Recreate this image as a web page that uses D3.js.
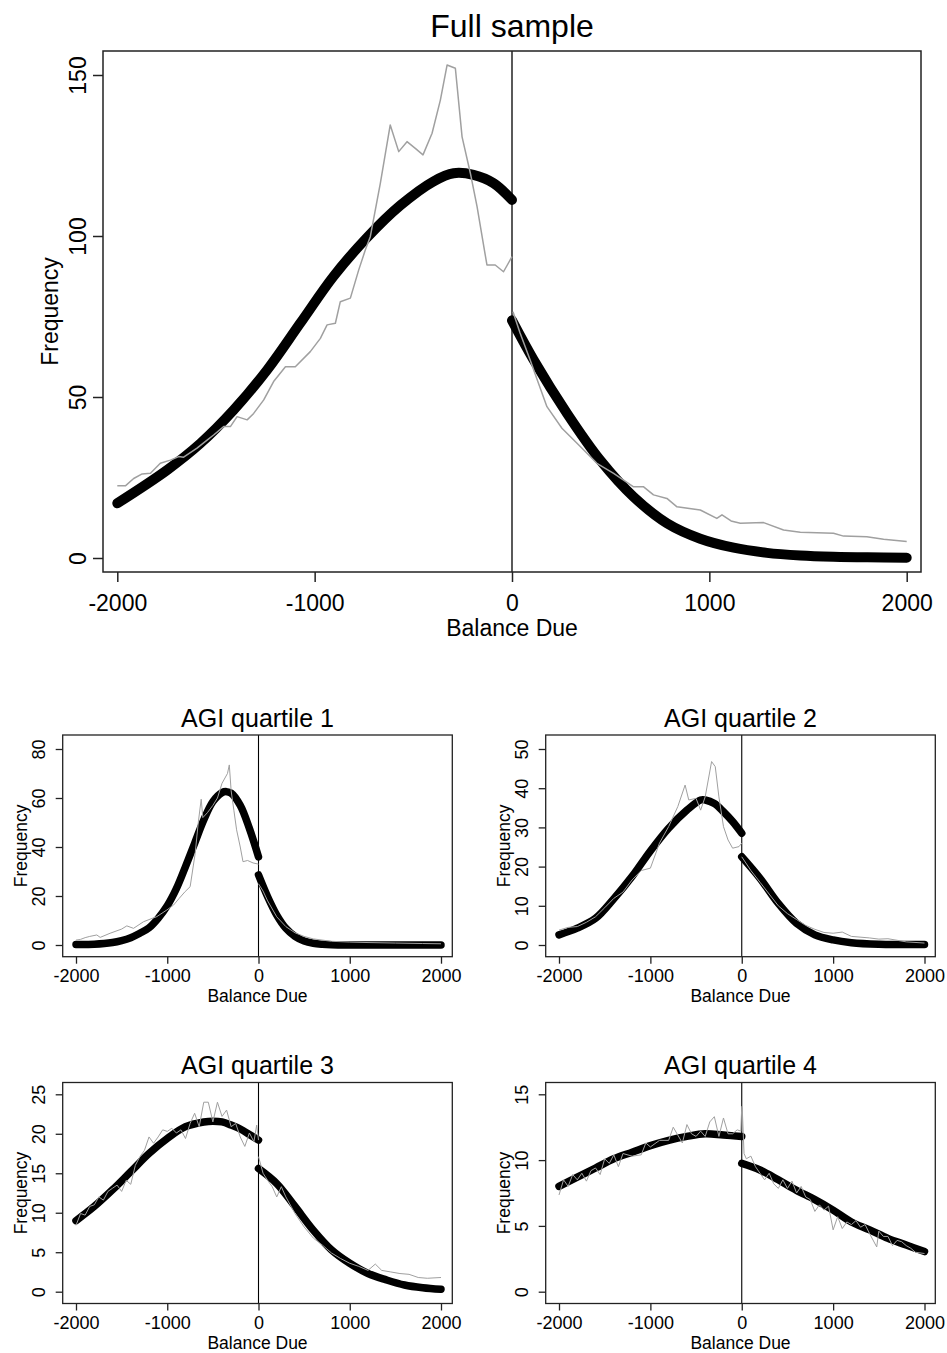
<!DOCTYPE html>
<html>
<head>
<meta charset="utf-8">
<script src="https://cdn.jsdelivr.net/npm/d3@7"></script>
<style>
body { margin: 0; background: #fff; }
svg { display: block; font-family: "Liberation Sans", Arial, sans-serif; }
</style>
</head>
<body>
<svg id="chart"></svg>
<script>
// ---- data: [balance due, frequency] ----
var xTicks = [-2000, -1000, 0, 1000, 2000];

var fullTicks = [0, 50, 100, 150];
var fullFitLeft = [[-2000,17],[-1748,27.3],[-1579,35.6],[-1410,46],[-1241,58.4],[-1072,73],[-904,87.5],
    [-735,99.5],[-566,109.5],[-397,117],[-296,119.5],[-195,119],[-93,116.4],[0,111.2]];
var fullFitRight = [[0,73.8],[110,61.5],[279,44.9],[447,30.4],[616,19],[785,10.8],[954,6],[1123,3.2],
    [1292,1.6],[1461,0.8],[1629,0.4],[1800,0.2],[2000,0.1]];
var fullObsLeft = [[-2000,22.4],[-1959,22.4],[-1917,24.7],[-1874,26.1],[-1832,26.3],[-1782,29.4],[-1731,30.4],
    [-1689,31.5],[-1664,31.3],[-1596,34.1],[-1545,36.6],[-1512,38.2],[-1461,40.8],[-1427,40.8],[-1393,43.9],
    [-1342,42.9],[-1309,44.9],[-1258,49.1],[-1208,54.8],[-1148,59.4],[-1098,59.4],[-1022,64.1],[-971,68.2],
    [-937,72.4],[-895,72.9],[-870,79.6],[-819,80.7],[-777,89.4],[-743,95.7],[-718,99.8],[-667,116.4],
    [-617,134.5],[-574,126.2],[-532,129.3],[-490,127.2],[-451,125.2],[-405,131.9],[-363,142.2],[-329,153.1],
    [-287,152.1],[-253,130.8],[-211,119.5],[-177,109.1],[-127,91],[-85,91],[-43,88.9],[0,93.6]];
var fullObsRight = [[5,76.5],[40,70],[92,61.5],[130,55],[177,47],[253,40.3],[346,34.6],[430,29.4],[515,26.3],
    [616,22.1],[667,22.1],[717,19.6],[785,18.5],[836,15.9],[954,14.9],[1038,12.3],[1064,13.4],[1110,11.5],
    [1157,10.8],[1275,11],[1376,8.7],[1461,8],[1629,7.7],[1680,6.8],[1798,6.6],[1883,5.8],[2000,5.1]];

var q1Ticks = [0, 20, 40, 60, 80];
var q1FitLeft = [[-2000,0.2],[-1800,0.3],[-1600,1],[-1500,1.8],[-1400,3],[-1300,4.8],[-1200,7],[-1100,10.9],
    [-1000,16],[-900,23],[-800,32],[-700,41.5],[-600,51],[-500,58.5],[-400,62.2],[-350,62.6],[-300,62],
    [-200,57],[-100,47.6],[0,36]];
var q1FitRight = [[0,28.6],[100,19.7],[200,12.2],[300,6.8],[400,3.5],[500,1.6],[600,0.7],[700,0.3],[800,0.1],
    [1000,0],[2000,0]];
var q1ObsLeft = [[-2000,2],[-1950,2.3],[-1900,3],[-1850,3.5],[-1772,4.1],[-1735,3.1],[-1626,4.8],[-1500,6.5],
    [-1443,7.8],[-1370,6.8],[-1260,9.5],[-1114,11.6],[-1004,14.3],[-931,16.3],[-870,19],[-804,21.8],[-749,23.8],
    [-694,37.4],[-660,50],[-628,59.5],[-610,52],[-560,54],[-500,57],[-450,60],[-400,66],[-340,70],[-320,73.5],
    [-300,63],[-270,55],[-240,47],[-200,40],[-170,34],[-120,34.5],[-60,33.5],[0,33]];
var q1ObsRight = [[0,25],[50,22],[100,18],[200,11.5],[300,7.5],[400,5],[500,3.5],[600,2.5],[800,1.5],
    [1000,1.2],[1200,1],[1500,0.8],[1800,0.6],[2000,0.5]];

var q2Ticks = [0, 10, 20, 30, 40, 50];
var q2FitLeft = [[-2000,2.6],[-1800,4.3],[-1600,6.8],[-1400,11.8],[-1200,17.5],[-1000,24],[-800,29.8],
    [-600,34.4],[-450,37],[-400,37],[-300,36.1],[-200,34],[-100,31.5],[0,28.5]];
var q2FitRight = [[0,22.5],[200,17],[400,10.6],[600,5.5],[800,2.6],[1000,1.3],[1200,0.6],[1500,0.2],[2000,0.1]];
var q2ObsLeft = [[-2000,3.8],[-1900,4.5],[-1800,4.7],[-1700,5.8],[-1600,7.2],[-1500,9.5],[-1400,11.9],
    [-1300,13.5],[-1200,16.6],[-1100,19],[-1000,19.6],[-900,26],[-800,30.2],[-700,35.3],[-620,40.8],[-580,37],
    [-500,37.4],[-450,34.4],[-400,37.8],[-330,46.8],[-290,45.5],[-250,37.8],[-200,30.2],[-150,26.8],[-100,24.7],
    [-30,25.1],[0,26]];
var q2ObsRight = [[0,22.5],[100,19],[200,16],[300,13],[400,10],[500,8],[600,6.5],[700,5],[800,4],[900,3.2],
    [1000,3],[1100,3.3],[1200,2.2],[1400,1.8],[1500,1.5],[1600,1.6],[1700,1.2],[1800,0.8],[2000,0.5]];

var q3Ticks = [0, 5, 10, 15, 20, 25];
var q3FitLeft = [[-2000,9],[-1800,10.8],[-1600,12.9],[-1400,15.2],[-1200,17.5],[-1000,19.4],[-800,20.9],
    [-600,21.5],[-500,21.6],[-400,21.5],[-300,21.1],[-200,20.6],[-100,19.9],[0,19.2]];
var q3FitRight = [[0,15.6],[200,13.7],[400,10.8],[600,7.8],[800,5.3],[1000,3.6],[1200,2.3],[1400,1.5],
    [1600,0.85],[1800,0.5],[2000,0.3]];
var q3ObsLeft = [[-2000,8.4],[-1950,9.9],[-1900,9.7],[-1850,10.8],[-1800,11],[-1750,12],[-1700,11.6],
    [-1650,12.7],[-1600,13.1],[-1550,13.5],[-1500,12.7],[-1450,14.1],[-1400,13.6],[-1350,16],[-1300,17.1],
    [-1250,17.9],[-1200,19.6],[-1150,18.8],[-1100,19.6],[-1050,20.5],[-1000,20.3],[-950,20.7],[-900,20.1],
    [-850,20.5],[-800,19.4],[-750,21.3],[-700,22.6],[-650,20.9],[-600,24],[-550,24],[-500,21.5],[-450,24],
    [-400,22.2],[-350,23],[-300,20.9],[-250,21.3],[-200,19.6],[-150,18.4],[-100,20.1],[-50,19],[-20,21.1],[0,19.2]];
var q3ObsRight = [[0,17.1],[50,15],[100,14.1],[150,13.3],[200,12],[250,13.3],[300,12],[400,9.9],[500,8.2],
    [600,6.8],[700,5.9],[800,4.9],[900,4.2],[1000,3.6],[1100,3.2],[1200,2.7],[1280,3.5],[1350,2.7],[1450,2.5],
    [1550,2.3],[1650,2.2],[1750,1.8],[1850,1.7],[2000,1.8]];

var q4Ticks = [0, 5, 10, 15];
var q4FitLeft = [[-2000,8],[-1800,8.7],[-1600,9.4],[-1400,10.1],[-1200,10.6],[-1000,11.1],[-800,11.5],
    [-600,11.8],[-400,12],[-200,11.9],[0,11.8]];
var q4FitRight = [[0,9.75],[200,9.25],[400,8.5],[600,7.7],[800,7],[1000,6.2],[1200,5.3],[1400,4.7],
    [1600,4.05],[1800,3.55],[2000,3.05]];
var q4ObsLeft = [[-2000,7.35],[-1950,8.5],[-1900,8],[-1850,8.9],[-1800,8.5],[-1750,9],[-1700,8.4],[-1650,9.2],
    [-1600,9.4],[-1550,8.9],[-1500,10.1],[-1450,9.75],[-1400,10.4],[-1350,9.5],[-1300,10.5],[-1200,10.3],
    [-1100,10.4],[-1050,11.3],[-1000,11],[-900,11.5],[-800,11.5],[-750,12.5],[-700,11.9],[-650,11.3],
    [-600,12.7],[-550,12],[-500,11.8],[-450,12.2],[-400,11.8],[-350,12.9],[-300,13.3],[-250,11.8],[-200,13.2],
    [-150,12],[-100,12],[-50,12.3],[-10,12.2],[0,14.1]];
var q4ObsRight = [[5,14],[25,10.5],[50,10.1],[100,10.3],[150,9.5],[200,9],[250,8.5],[300,9],[350,8.2],
    [400,7.85],[450,8.5],[500,7.85],[550,8.4],[600,7.5],[650,8],[700,7.2],[750,7],[800,6.1],[850,6.6],
    [900,6.2],[950,6.5],[1000,4.7],[1050,5.7],[1100,4.8],[1150,5.3],[1200,5.1],[1250,5.4],[1300,4.9],
    [1350,5.1],[1400,4.4],[1477,3.4],[1500,4.6],[1550,4.2],[1600,4.2],[1650,3.5],[1700,3.9],[1750,3.8],
    [1800,3.5],[1850,3.3],[1900,3],[2000,2.9]];

// ---- layout ----
var svg = d3.select("#chart")
    .attr("width", 947)
    .attr("height", 1353);

var big = {titleSize: 32, textSize: 23, labelSize: 23, tickLen: 10, titleGap: 14, tickText: 39, labelGap: 64,
    yText: 17, yLabel: 45.5, fitWidth: 10, obsWidth: 1.5, frame: 1.5};
var small = {titleSize: 25, textSize: 18, labelSize: 17.5, tickLen: 7, titleGap: 8.5, tickText: 25.5, labelGap: 45.5,
    yText: 17.5, yLabel: 36, fitWidth: 7.5, obsWidth: 1, frame: 1.3};

var panels = [
    {title: "Full sample", box: [103, 51, 921, 572], xr: [117.3, 906.7], yr: [558, 75], ticks: fullTicks,
        fitL: fullFitLeft, fitR: fullFitRight, obsL: fullObsLeft, obsR: fullObsRight, s: big},
    {title: "AGI quartile 1", box: [62.7, 735, 452.3, 956.7], xr: [76, 441], yr: [945, 749], ticks: q1Ticks,
        fitL: q1FitLeft, fitR: q1FitRight, obsL: q1ObsLeft, obsR: q1ObsRight, s: small},
    {title: "AGI quartile 2", box: [545.7, 735, 935.3, 956.7], xr: [559, 924.5], yr: [945, 749], ticks: q2Ticks,
        fitL: q2FitLeft, fitR: q2FitRight, obsL: q2ObsLeft, obsR: q2ObsRight, s: small},
    {title: "AGI quartile 3", box: [62.7, 1082.5, 452.3, 1303.5], xr: [76, 441], yr: [1291.7, 1094.3], ticks: q3Ticks,
        fitL: q3FitLeft, fitR: q3FitRight, obsL: q3ObsLeft, obsR: q3ObsRight, s: small},
    {title: "AGI quartile 4", box: [545.7, 1082.5, 935.3, 1303.5], xr: [559, 924.5], yr: [1291.7, 1094.3], ticks: q4Ticks,
        fitL: q4FitLeft, fitR: q4FitRight, obsL: q4ObsLeft, obsR: q4ObsRight, s: small}
];

panels.forEach(function(p) {
    var s = p.s;
    var x = d3.scaleLinear().domain([-2000, 2000]).range(p.xr);
    var y = d3.scaleLinear().domain([0, p.ticks[p.ticks.length - 1]]).range(p.yr);
    var left = p.box[0], top = p.box[1], right = p.box[2], bottom = p.box[3];
    var cx = (left + right) / 2, cy = (top + bottom) / 2;

    var g = svg.append("g");

    var fitLine = d3.line()
        .x(function(d) { return x(d[0]); })
        .y(function(d) { return y(d[1]); })
        .curve(d3.curveCatmullRom.alpha(0.5));

    var obsLine = d3.line()
        .x(function(d) { return x(d[0]); })
        .y(function(d) { return y(d[1]); });

    // cutoff at zero
    g.append("line")
        .attr("x1", x(0)).attr("x2", x(0))
        .attr("y1", top).attr("y2", bottom)
        .attr("stroke", "#000")
        .attr("stroke-width", s.frame - 0.2);

    // fitted curves (thick black)
    [p.fitL, p.fitR].forEach(function(seg) {
        g.append("path")
            .datum(seg)
            .attr("fill", "none")
            .attr("stroke", "#000")
            .attr("stroke-width", s.fitWidth)
            .attr("stroke-linecap", "round")
            .attr("stroke-linejoin", "round")
            .attr("d", fitLine);
    });

    // observed frequencies (thin grey)
    [p.obsL, p.obsR].forEach(function(seg) {
        g.append("path")
            .datum(seg)
            .attr("fill", "none")
            .attr("stroke", "#a0a0a0")
            .attr("stroke-width", s.obsWidth)
            .attr("stroke-linejoin", "round")
            .attr("d", obsLine);
    });

    // frame
    g.append("rect")
        .attr("x", left).attr("y", top)
        .attr("width", right - left).attr("height", bottom - top)
        .attr("fill", "none")
        .attr("stroke", "#222")
        .attr("stroke-width", s.frame);

    // x axis
    var xa = g.append("g")
        .attr("transform", "translate(0," + bottom + ")")
        .call(d3.axisBottom(x).tickValues(xTicks).tickSize(s.tickLen).tickFormat(function(d) { return String(d); }));
    xa.select(".domain").remove();
    xa.selectAll("line").attr("stroke", "#222").attr("stroke-width", s.frame);
    xa.selectAll("text")
        .attr("y", s.tickText).attr("dy", null)
        .attr("fill", "#000")
        .style("font-size", s.textSize + "px")
        .style("font-family", "'Liberation Sans', Arial, sans-serif");

    // y axis with rotated labels
    var ya = g.append("g")
        .attr("transform", "translate(" + left + ",0)")
        .call(d3.axisLeft(y).tickValues(p.ticks).tickSize(s.tickLen).tickFormat(function(d) { return String(d); }));
    ya.select(".domain").remove();
    ya.selectAll("line").attr("stroke", "#222").attr("stroke-width", s.frame);
    ya.selectAll("text")
        .attr("x", 0).attr("y", -s.yText).attr("dy", null)
        .attr("transform", "rotate(-90)")
        .attr("text-anchor", "middle")
        .attr("fill", "#000")
        .style("font-size", s.textSize + "px")
        .style("font-family", "'Liberation Sans', Arial, sans-serif");

    // titles and axis labels
    g.append("text")
        .attr("x", cx).attr("y", top - s.titleGap)
        .attr("text-anchor", "middle")
        .style("font-size", s.titleSize + "px")
        .text(p.title);

    g.append("text")
        .attr("x", cx).attr("y", bottom + s.labelGap)
        .attr("text-anchor", "middle")
        .style("font-size", s.labelSize + "px")
        .text("Balance Due");

    g.append("text")
        .attr("transform", "translate(" + (left - s.yLabel) + "," + cy + ") rotate(-90)")
        .attr("text-anchor", "middle")
        .style("font-size", s.labelSize + "px")
        .text("Frequency");
});
</script>
</body>
</html>
